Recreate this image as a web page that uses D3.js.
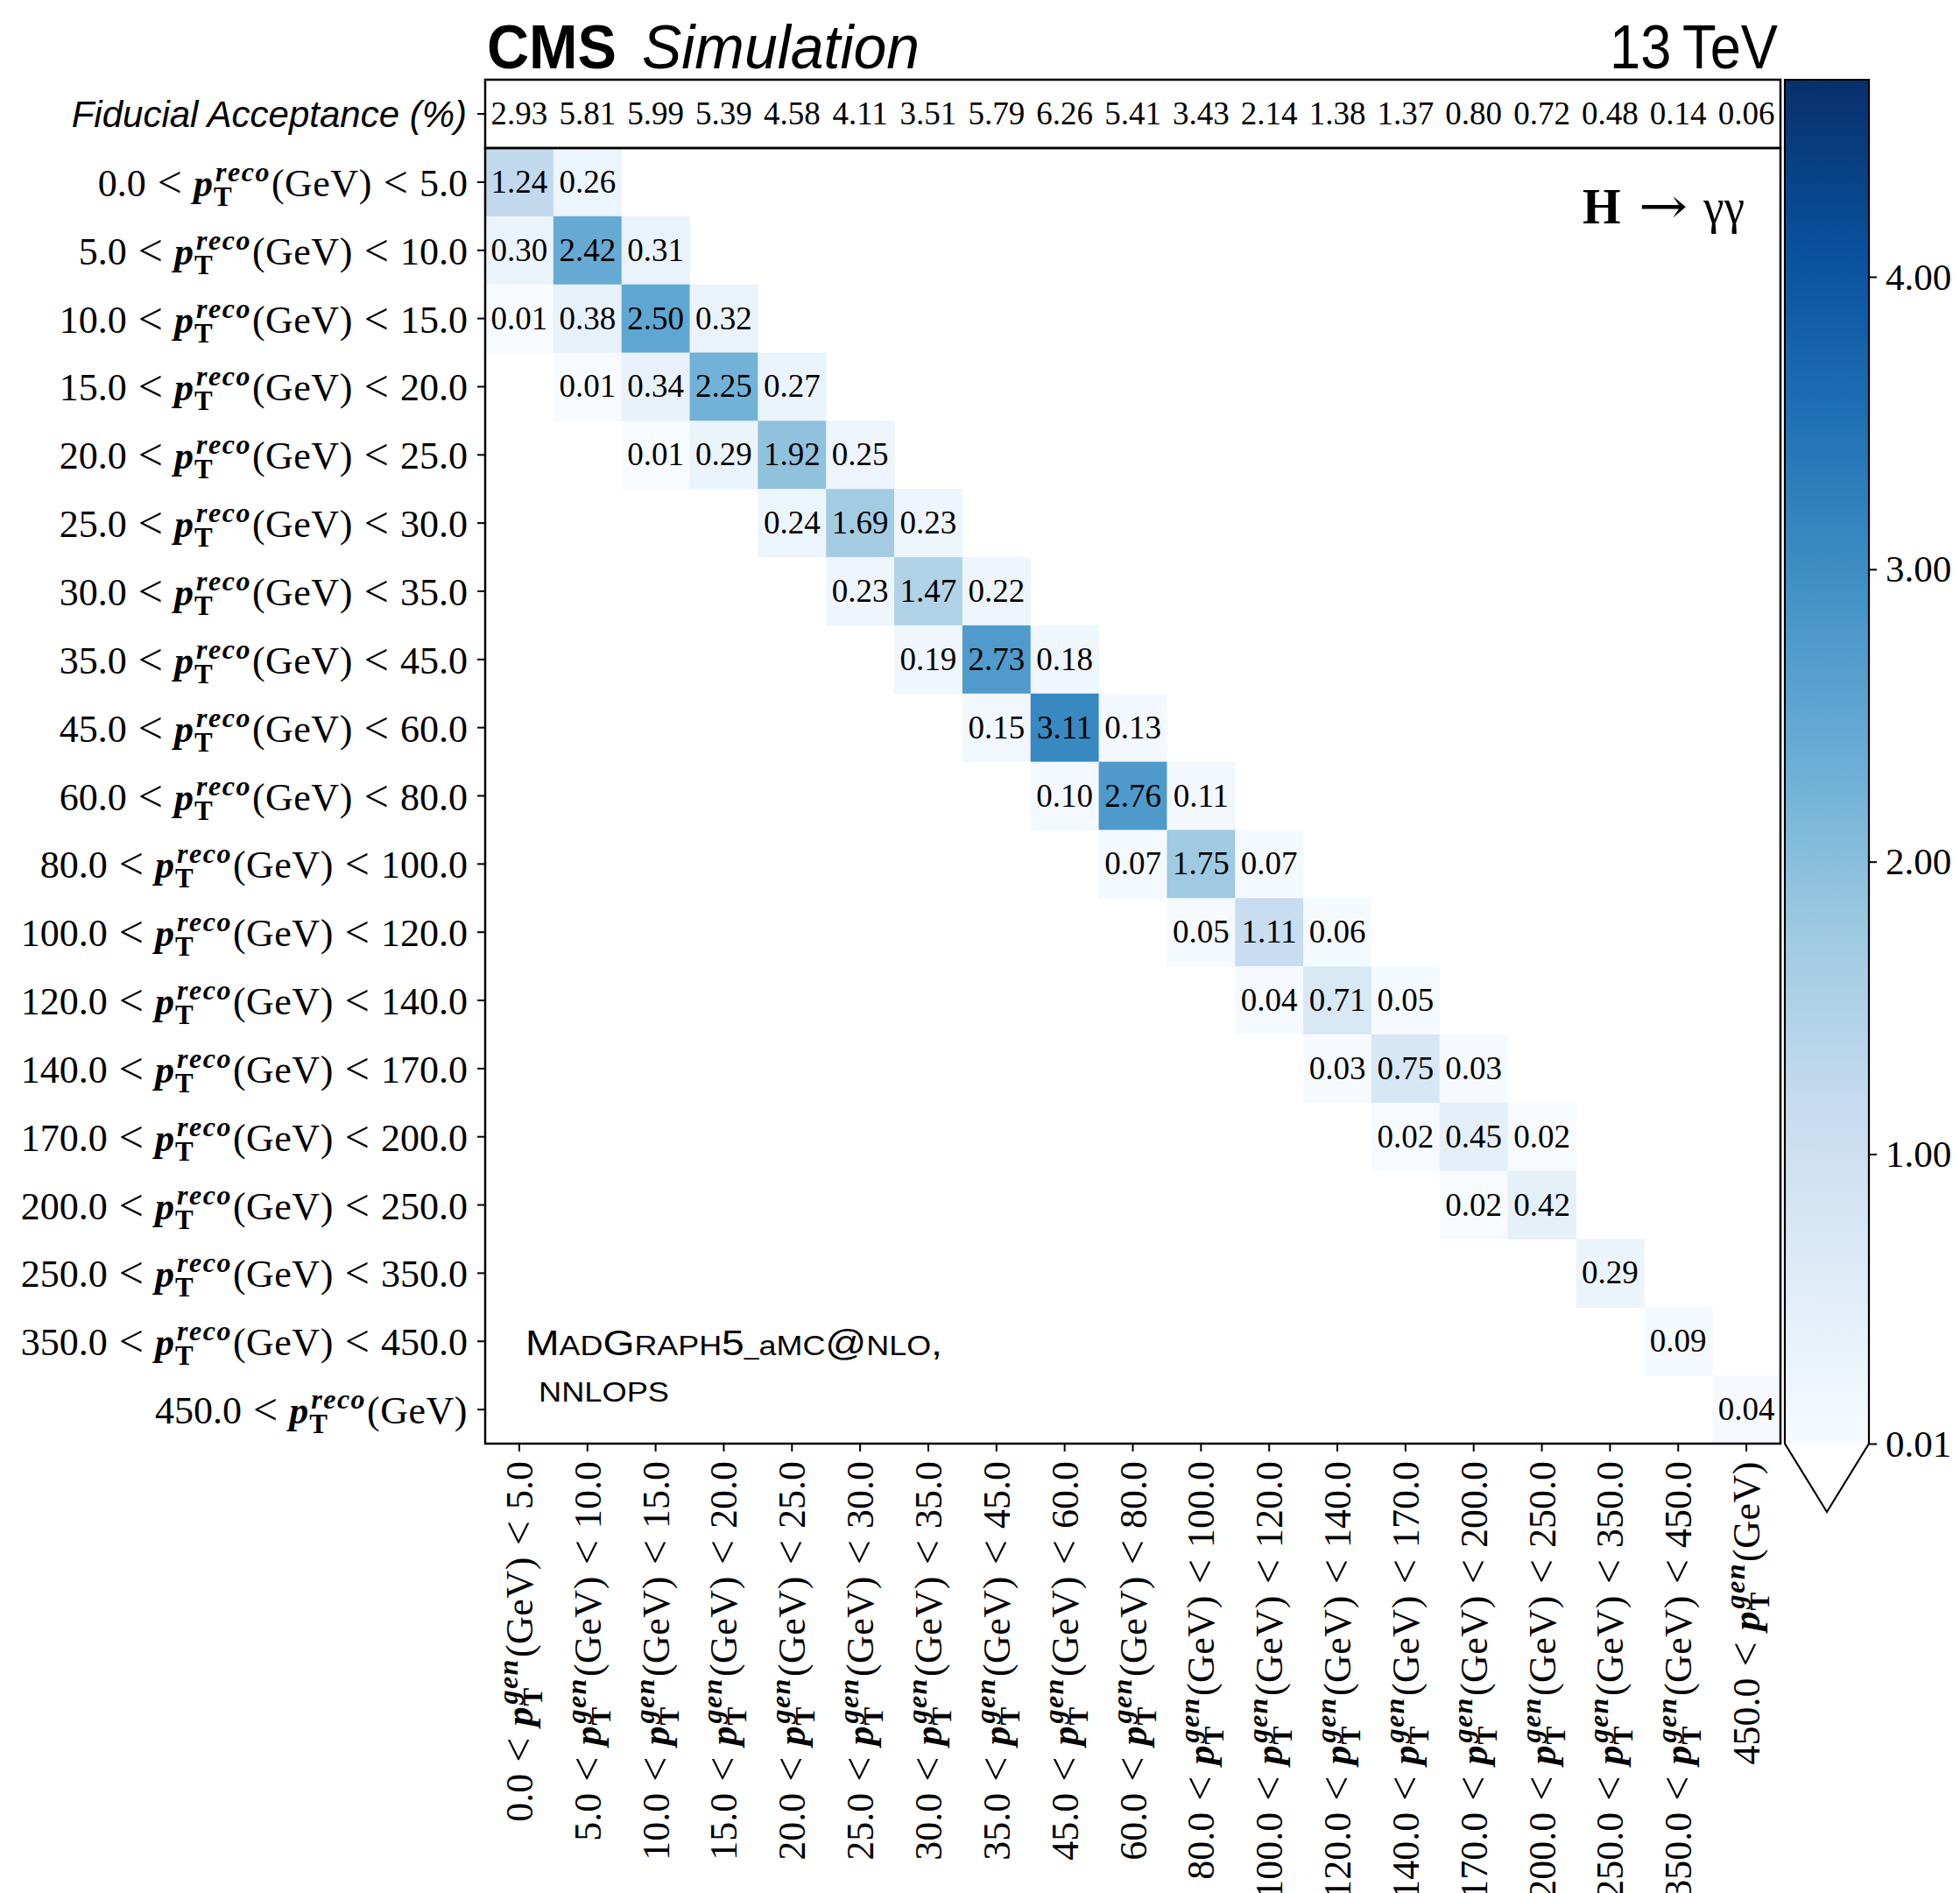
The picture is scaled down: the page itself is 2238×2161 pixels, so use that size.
<!DOCTYPE html>
<html>
<head>
<meta charset="utf-8">
<script src="https://cdn.jsdelivr.net/npm/d3@7"></script>
<style>
  html, body { margin: 0; padding: 0; background: #fff; }
  svg { display: block; }
</style>
</head>
<body>
<script>
// ---------------- data ----------------
const binLow  = ["0.0","5.0","10.0","15.0","20.0","25.0","30.0","35.0","45.0","60.0","80.0","100.0","120.0","140.0","170.0","200.0","250.0","350.0","450.0"];
const binHigh = ["5.0","10.0","15.0","20.0","25.0","30.0","35.0","45.0","60.0","80.0","100.0","120.0","140.0","170.0","200.0","250.0","350.0","450.0",null];
const acceptance = [2.93,5.81,5.99,5.39,4.58,4.11,3.51,5.79,6.26,5.41,3.43,2.14,1.38,1.37,0.80,0.72,0.48,0.14,0.06];
// [reco row index, gen column index, value]
const cells = [
  [0,0,1.24],[0,1,0.26],
  [1,0,0.30],[1,1,2.42],[1,2,0.31],
  [2,0,0.01],[2,1,0.38],[2,2,2.50],[2,3,0.32],
  [3,1,0.01],[3,2,0.34],[3,3,2.25],[3,4,0.27],
  [4,2,0.01],[4,3,0.29],[4,4,1.92],[4,5,0.25],
  [5,4,0.24],[5,5,1.69],[5,6,0.23],
  [6,5,0.23],[6,6,1.47],[6,7,0.22],
  [7,6,0.19],[7,7,2.73],[7,8,0.18],
  [8,7,0.15],[8,8,3.11],[8,9,0.13],
  [9,8,0.10],[9,9,2.76],[9,10,0.11],
  [10,9,0.07],[10,10,1.75],[10,11,0.07],
  [11,10,0.05],[11,11,1.11],[11,12,0.06],
  [12,11,0.04],[12,12,0.71],[12,13,0.05],
  [13,12,0.03],[13,13,0.75],[13,14,0.03],
  [14,13,0.02],[14,14,0.45],[14,15,0.02],
  [15,14,0.02],[15,15,0.42],
  [16,16,0.29],
  [17,17,0.09],
  [18,18,0.04]
];
const colorDomain = [0.01, 4.674];
const colorbarTicks = [4.00, 3.00, 2.00, 1.00, 0.01];
const bluesStops = ["#f7fbff","#deebf7","#c6dbef","#9ecae1","#6baed6","#4292c6","#2171b5","#08519c","#08306b"];

// ---------------- layout ----------------
const W = 2238, H = 2161;
const serif = "'Liberation Serif', 'DejaVu Serif', serif";
const sans  = "'Liberation Sans', Arial, Helvetica, sans-serif";
const X0 = 554, X1 = 2033, ACC_TOP = 91, Y0 = 169, Y1 = 1648;
const CB_X0 = 2038, CB_X1 = 2134, CB_TIP = 1726;

const svg = d3.select("body").append("svg").attr("width", W).attr("height", H);
svg.append("rect").attr("width", W).attr("height", H).attr("fill", "#fff");

const n = binLow.length;
const x = d3.scaleBand().domain(d3.range(n)).range([X0, X1]);
const y = d3.scaleBand().domain(d3.range(n)).range([Y0, Y1]);
const yAcc = d3.scaleBand().domain([0]).range([ACC_TOP, Y0]);

const blues = d3.scaleLinear()
  .domain(d3.range(bluesStops.length).map(i => i / (bluesStops.length - 1)))
  .range(bluesStops).interpolate(d3.interpolateRgb);
const norm = d3.scaleLinear().domain(colorDomain).range([0, 1]).clamp(true);
const color = v => v < colorDomain[0] ? "#ffffff" : blues(norm(v));

// ---------------- matrix cells ----------------
const gCells = svg.append("g");
gCells.selectAll("rect").data(cells).join("rect")
  .attr("x", d => x(d[1])).attr("y", d => y(d[0]))
  .attr("width", x.bandwidth() + 0.5).attr("height", y.bandwidth() + 0.5)
  .attr("fill", d => color(d[2]));
gCells.selectAll("text").data(cells).join("text")
  .attr("x", d => x(d[1]) + x.bandwidth() / 2)
  .attr("y", d => y(d[0]) + y.bandwidth() / 2 + 12)
  .attr("text-anchor", "middle")
  .attr("font-family", serif).attr("font-size", 37).attr("fill", "#000")
  .text(d => d[2].toFixed(2));

// ---------------- acceptance row ----------------
svg.append("g").selectAll("text").data(acceptance).join("text")
  .attr("x", (d, i) => x(i) + x.bandwidth() / 2)
  .attr("y", yAcc(0) + yAcc.bandwidth() / 2 + 12)
  .attr("text-anchor", "middle")
  .attr("font-family", serif).attr("font-size", 37).attr("fill", "#000")
  .text(d => d.toFixed(2));

// ---------------- frames ----------------
svg.append("rect").attr("x", X0).attr("y", ACC_TOP).attr("width", X1 - X0).attr("height", Y0 - ACC_TOP)
  .attr("fill", "none").attr("stroke", "#000").attr("stroke-width", 2.5);
svg.append("rect").attr("x", X0).attr("y", Y0).attr("width", X1 - X0).attr("height", Y1 - Y0)
  .attr("fill", "none").attr("stroke", "#000").attr("stroke-width", 2.5);

// ---------------- axes (ticks) ----------------
const yAxis = svg.append("g").attr("transform", `translate(${X0},0)`)
  .call(d3.axisLeft(y).tickSize(9).tickFormat(() => ""));
yAxis.select(".domain").remove();
yAxis.selectAll("line").attr("stroke-width", 2);

const accAxis = svg.append("g").attr("transform", `translate(${X0},0)`)
  .call(d3.axisLeft(yAcc).tickSize(9).tickFormat(() => ""));
accAxis.select(".domain").remove();
accAxis.selectAll("line").attr("stroke-width", 2);

const xAxis = svg.append("g").attr("transform", `translate(0,${Y1})`)
  .call(d3.axisBottom(x).tickSize(9).tickFormat(() => ""));
xAxis.select(".domain").remove();
xAxis.selectAll("line").attr("stroke-width", 2);

// math-like label builder: lo < p_T^{sup}(GeV) < hi
function ptLabel(t, lo, hi, sup) {
  const gap = 13;
  t.append("tspan").text(lo);
  t.append("tspan").attr("dx", gap).attr("font-size", 50).attr("dy", 1).text("<");
  t.append("tspan").attr("dx", gap).attr("dy", -1).attr("font-weight", "bold").attr("font-style", "italic").text("p");
  const sub = t.append("tspan").attr("font-size", 31).attr("font-weight", "bold")
    .attr("dx", 1).attr("dy", 11).text("T");
  const sp = t.append("tspan").attr("font-size", 32).attr("font-weight", "bold").attr("font-style", "italic")
    .attr("dy", -28).attr("letter-spacing", 1.5).text(sup);
  sp.attr("dx", -sub.node().getComputedTextLength() + 2);
  t.append("tspan").attr("dy", 17).attr("dx", 1).attr("letter-spacing", 0.5).text("(GeV)");
  if (hi) {
    t.append("tspan").attr("dx", gap).attr("font-size", 50).attr("dy", 1).text("<");
    t.append("tspan").attr("dx", gap).attr("dy", -1).text(hi);
  }
}

// y tick labels (reco)
yAxis.selectAll(".tick").each(function(d) {
  const t = d3.select(this).append("text")
    .attr("x", -20).attr("y", 16)
    .attr("text-anchor", "end").attr("fill", "#000")
    .attr("font-family", serif).attr("font-size", 44);
  ptLabel(t, binLow[d], binHigh[d], "reco");
});

// acceptance label
accAxis.selectAll(".tick").append("text")
  .attr("x", -21).attr("y", 15).attr("text-anchor", "end")
  .attr("font-family", sans).attr("font-style", "italic").attr("font-size", 42).attr("fill", "#000")
  .text("Fiducial Acceptance (%)");

// x tick labels (gen), rotated
xAxis.selectAll(".tick").each(function(d) {
  const t = d3.select(this).append("text")
    .attr("transform", "translate(0,20) rotate(-90)")
    .attr("x", 0).attr("y", 15)
    .attr("text-anchor", "end").attr("fill", "#000")
    .attr("font-family", serif).attr("font-size", 44);
  ptLabel(t, binLow[d], binHigh[d], "gen");
});

// ---------------- colorbar ----------------
const cbY = d3.scaleLinear().domain(colorDomain).range([Y1, ACC_TOP]);
const defs = svg.append("defs");
const grad = defs.append("linearGradient").attr("id", "cbgrad")
  .attr("x1", 0).attr("y1", 1).attr("x2", 0).attr("y2", 0);
grad.selectAll("stop").data(bluesStops).join("stop")
  .attr("offset", (d, i) => i / (bluesStops.length - 1))
  .attr("stop-color", d => d);
svg.append("rect").attr("x", CB_X0).attr("y", cbY(colorDomain[1]))
  .attr("width", CB_X1 - CB_X0).attr("height", cbY(colorDomain[0]) - cbY(colorDomain[1]))
  .attr("fill", "url(#cbgrad)");
const cbMid = (CB_X0 + CB_X1) / 2;
svg.append("path")
  .attr("d", `M${CB_X0},${cbY(colorDomain[0])} L${cbMid},${CB_TIP} L${CB_X1},${cbY(colorDomain[0])} Z`)
  .attr("fill", "#fff");
svg.append("path")
  .attr("d", `M${CB_X0},${cbY(colorDomain[1])} L${CB_X1},${cbY(colorDomain[1])} L${CB_X1},${cbY(colorDomain[0])} L${cbMid},${CB_TIP} L${CB_X0},${cbY(colorDomain[0])} Z`)
  .attr("fill", "none").attr("stroke", "#000").attr("stroke-width", 2.2).attr("stroke-linejoin", "miter");
const cbAxis = svg.append("g").attr("transform", `translate(${CB_X1},0)`)
  .call(d3.axisRight(cbY).tickValues(colorbarTicks).tickSize(9).tickPadding(10).tickFormat(d3.format(".2f")));
cbAxis.select(".domain").remove();
cbAxis.selectAll("line").attr("stroke-width", 2);
cbAxis.selectAll("text").attr("font-family", serif).attr("font-size", 43).attr("fill", "#000")
  .attr("dy", null).attr("y", 14);

// ---------------- titles & annotations ----------------
svg.append("text").attr("x", 556).attr("y", 78)
  .attr("font-family", sans).attr("font-weight", "bold").attr("font-size", 70)
  .attr("textLength", 148).attr("lengthAdjust", "spacingAndGlyphs").text("CMS");
svg.append("text").attr("x", 733).attr("y", 78)
  .attr("font-family", sans).attr("font-style", "italic").attr("font-size", 70)
  .attr("textLength", 317).attr("lengthAdjust", "spacingAndGlyphs").text("Simulation");
svg.append("text").attr("x", 1838).attr("y", 78)
  .attr("font-family", sans).attr("font-size", 70)
  .attr("textLength", 192).attr("lengthAdjust", "spacingAndGlyphs").text("13\u2009TeV");

svg.append("text").attr("x", 1807).attr("y", 255)
  .attr("font-family", serif).attr("font-weight", "bold").attr("font-size", 56).text("H");
svg.append("text").attr("x", 1871).attr("y", 255)
  .attr("font-family", "'DejaVu Serif', serif").attr("font-size", 58)
  .attr("textLength", 56).attr("lengthAdjust", "spacingAndGlyphs").text("\u2192");
svg.append("text").attr("x", 1945).attr("y", 255)
  .attr("font-family", serif).attr("font-size", 56)
  .attr("textLength", 47).attr("lengthAdjust", "spacingAndGlyphs").text("\u03b3\u03b3");

const mg = svg.append("text").attr("x", 600).attr("y", 1547)
  .attr("font-family", sans).attr("font-size", 40)
  .attr("textLength", 476).attr("lengthAdjust", "spacingAndGlyphs");
[["M",40],["AD",31],["G",40],["RAPH",31],["5",40],["_",26],["a",31],["MC",31],["@",40],["NLO",31],[",",40]]
  .forEach(([s, fs]) => mg.append("tspan").attr("font-size", fs).text(s));
svg.append("text").attr("x", 615).attr("y", 1600)
  .attr("font-family", sans).attr("font-size", 32)
  .attr("textLength", 149).attr("lengthAdjust", "spacingAndGlyphs").text("NNLOPS");
</script>
</body>
</html>
